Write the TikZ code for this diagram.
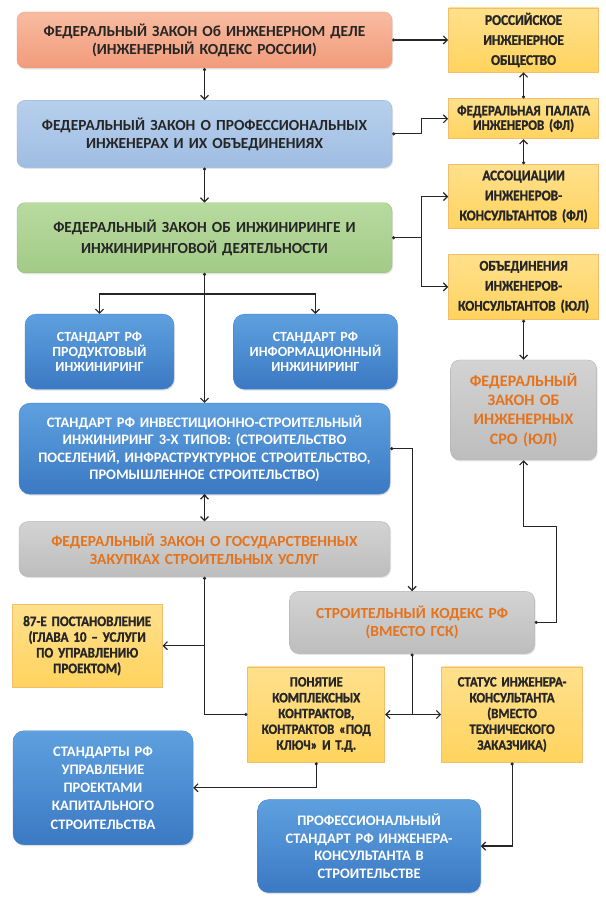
\documentclass[tikz,border=0pt]{standalone}
\usepackage{fontspec}
\setmainfont{Carlito}
\newfontfamily\narrowfont[FakeStretch=0.9, BoldFont={Carlito Bold}, BoldFeatures={FakeStretch=0.9, FakeBold=1.2}]{Carlito}
\usepackage{xcolor}
\usetikzlibrary{positioning,arrows.meta,shadows}

\definecolor{ink}{HTML}{262626}
\definecolor{linec}{HTML}{262626}
\definecolor{peacht}{HTML}{F8BBA0}
\definecolor{peachb}{HTML}{F29B7B}
\definecolor{peachd}{HTML}{E9A488}
\definecolor{skyt}{HTML}{B7CFEC}
\definecolor{skyb}{HTML}{9FBDE2}
\definecolor{skyd}{HTML}{94B3DA}
\definecolor{leaft}{HTML}{B8DA9F}
\definecolor{leafb}{HTML}{A2CB86}
\definecolor{leafd}{HTML}{94BE78}
\definecolor{bluet}{HTML}{5EA0DF}
\definecolor{blueb}{HTML}{3B79C3}
\definecolor{blued}{HTML}{4A86CB}
\definecolor{grayt}{HTML}{D3D3D3}
\definecolor{grayb}{HTML}{BDBDBD}
\definecolor{grayd}{HTML}{B5B5B5}
\definecolor{rust}{HTML}{E4731E}
\definecolor{sunt}{HTML}{FFE08C}
\definecolor{sunb}{HTML}{FFD35E}
\definecolor{sund}{HTML}{F3BE6C}

\begin{document}
\begin{tikzpicture}[
		box/.style={align=center, inner sep=0pt, font=\bfseries},
		soft/.style={drop shadow={opacity=0.22, shadow xshift=1pt, shadow yshift=-1.5pt}},
		peachbox/.style={box, soft, rounded corners=8pt, draw=peachd, top color=peacht, bottom color=peachb, text=ink},
		skybox/.style={box, soft, rounded corners=8pt, draw=skyd, top color=skyt, bottom color=skyb, text=ink},
		leafbox/.style={box, soft, rounded corners=8pt, draw=leafd, top color=leaft, bottom color=leafb, text=ink},
		bluebox/.style={box, soft, rounded corners=11pt, draw=blued, top color=bluet, bottom color=blueb, text=white},
		graybox/.style={box, soft, rounded corners=9pt, draw=grayd, top color=grayt, bottom color=grayb, text=rust},
		sunbox/.style={box, draw=sund, line width=0.8pt, top color=sunt, bottom color=sunb, text=ink},
		big/.style={font=\fontsize{15.4}{18}\selectfont\bfseries},
		mid/.style={font=\fontsize{14.5}{17.8}\selectfont\bfseries},
		small/.style 2 args={font=\narrowfont\fontsize{#1}{#2}\selectfont\bfseries},
		wire/.style={draw=linec, line width=1.2pt},
		conn/.style={wire, {Circle[length=3pt]}-{Straight Barb[length=4pt,width=8pt]}},
		arr/.style={wire, -{Straight Barb[length=4pt,width=8pt]}},
		dotline/.style={wire, {Circle[length=3pt]}-},
		dotdot/.style={wire, {Circle[length=3pt]}-{Circle[length=3pt]}},
	]
			\fill[white] (0,0) rectangle (605pt,899pt);
			\useasboundingbox (0,0) rectangle (605pt,899pt);

			\node[peachbox, big, minimum width=375pt, minimum height=56pt, text width=365pt] (1) at (204.5pt,859pt) {ФЕДЕРАЛЬНЫЙ ЗАКОН Об ИНЖЕНЕРНОМ ДЕЛЕ\\(ИНЖЕНЕРНЫЙ КОДЕКС РОССИИ)};
			\node[skybox, big, minimum width=375pt, minimum height=67pt, text width=365pt] (2) [below=32pt of 1] {ФЕДЕРАЛЬНЫЙ ЗАКОН О ПРОФЕССИОНАЛЬНЫХ\\ИНЖЕНЕРАХ И ИХ ОБЪЕДИНЕНИЯХ};
			\node[leafbox, font=\fontsize{15.4}{21}\selectfont\bfseries, minimum width=375pt, minimum height=70pt, text width=365pt] (3) [below=35pt of 2] {ФЕДЕРАЛЬНЫЙ ЗАКОН ОБ ИНЖИНИРИНГЕ И\\ИНЖИНИРИНГОВОЙ ДЕЯТЕЛЬНОСТИ};
			\node[bluebox, font=\fontsize{14}{14.8}\selectfont\bfseries, minimum width=149pt, minimum height=75pt, text width=143pt] (4) [below right=41pt and 8pt of 3.south west] {СТАНДАРТ РФ\\ПРОДУКТОВЫЙ\\ИНЖИНИРИНГ};
			\node[bluebox, font=\fontsize{14}{14.8}\selectfont\bfseries, minimum width=164pt, minimum height=75pt, text width=158pt] (5) [right=59pt of 4] {СТАНДАРТ РФ\\ИНФОРМАЦИОННЫЙ\\ИНЖИНИРИНГ};
			\node[bluebox, font=\fontsize{14.5}{17.4}\selectfont\bfseries, minimum width=371pt, minimum height=91pt, text width=365pt] (6) [below=130pt of 3] {СТАНДАРТ РФ ИНВЕСТИЦИОННО-СТРОИТЕЛЬНЫЙ\\ИНЖИНИРИНГ 3-Х ТИПОВ: (СТРОИТЕЛЬСТВО\\ПОСЕЛЕНИЙ, ИНФРАСТРУКТУРНОЕ СТРОИТЕЛЬСТВО,\\ПРОМЫШЛЕННОЕ СТРОИТЕЛЬСТВО)};
			\node[graybox, big, minimum width=371pt, minimum height=55pt, text width=365pt] (7) [below=27pt of 6] {ФЕДЕРАЛЬНЫЙ ЗАКОН О ГОСУДАРСТВЕННЫХ\\ЗАКУПКАХ СТРОИТЕЛЬНЫХ УСЛУГ};
			\node[sunbox, small={14.5}{15.7}, minimum width=150pt, minimum height=83pt, text width=148pt] (8) [below right=27pt and -7pt of 7.south west] {87-Е ПОСТАНОВЛЕНИЕ\\(ГЛАВА 10 – УСЛУГИ\\ПО УПРАВЛЕНИЮ\\ПРОЕКТОМ)};

			\node[sunbox, small={14.8}{20}, minimum width=150pt, minimum height=64pt, text width=148pt] (14) [right=56pt of 1] {РОССИЙСКОЕ\\ИНЖЕНЕРНОЕ\\ОБЩЕСТВО};
			\node[sunbox, small={14.4}{14.5}, minimum width=150pt, minimum height=40pt, text width=148pt] (15) [below=26pt of 14] {ФЕДЕРАЛЬНАЯ ПАЛАТА\\ИНЖЕНЕРОВ (ФЛ)};
			\node[sunbox, small={14.8}{20}, minimum width=150pt, minimum height=64pt, text width=148pt] (16) [below=25pt of 15] {АССОЦИАЦИИ\\ИНЖЕНЕРОВ-\\КОНСУЛЬТАНТОВ (ФЛ)};
			\node[sunbox, small={14.8}{20}, minimum width=150pt, minimum height=65pt, text width=148pt] (17) [below=25pt of 16] {ОБЪЕДИНЕНИЯ\\ИНЖЕНЕРОВ-\\КОНСУЛЬТАНТОВ (ЮЛ)};
			\node[graybox, font=\fontsize{16}{19.3}\selectfont\bfseries, minimum width=146pt, minimum height=100pt, text width=140pt] (18) [below=40pt of 17] {ФЕДЕРАЛЬНЫЙ\\ЗАКОН ОБ\\ИНЖЕНЕРНЫХ\\СРО (ЮЛ)};
			\node[graybox, big, minimum width=245pt, minimum height=62pt, text width=239pt] (9) [below left=131pt and 62pt of 18.south east] {СТРОИТЕЛЬНЫЙ КОДЕКС РФ\\(ВМЕСТО ГСК)};
			\node[sunbox, small={14.2}{15.8}, minimum width=137pt, minimum height=95pt, text width=135pt] (10) [below right=13pt and -42pt of 9.south west] {ПОНЯТИЕ\\КОМПЛЕКСНЫХ\\КОНТРАКТОВ,\\КОНТРАКТОВ «ПОД\\КЛЮЧ» И Т.Д.};
			\node[sunbox, small={14.2}{15.8}, minimum width=141pt, minimum height=95pt, text width=139pt] (11) [right=56pt of 10] {СТАТУС ИНЖЕНЕРА-\\КОНСУЛЬТАНТА\\(ВМЕСТО\\ТЕХНИЧЕСКОГО\\ЗАКАЗЧИКА)};
			\node[bluebox, font=\fontsize{14.5}{18.3}\selectfont\bfseries, minimum width=180pt, minimum height=114pt, text width=174pt] (12) [below right=43pt and 1pt of 8.south west] {СТАНДАРТЫ РФ\\УПРАВЛЕНИЕ\\ПРОЕКТАМИ\\КАПИТАЛЬНОГО\\СТРОИТЕЛЬСТВА};
			\node[bluebox, mid, minimum width=223pt, minimum height=93pt, text width=217pt] (13) [below right=37pt and 10pt of 10.south west] {ПРОФЕССИОНАЛЬНЫЙ\\СТАНДАРТ РФ ИНЖЕНЕРА-\\КОНСУЛЬТАНТА В\\СТРОИТЕЛЬСТВЕ};

			\path[conn]
				(1.east) edge (14.west)
				(1.south) edge (2.north)
				(2.south) edge (3.north)
				(15.north) edge (14.south)
				(16.north) edge (15.south)
				(17.south) edge (18.north)
				(3.south) edge (6.north)
				(6.south) edge (7.north)
			;

			\coordinate (br) at ([yshift=-21pt]3.south);
			\draw[arr] (br) -| (4.north);
			\draw[arr] (br) -| (5.north);

			\draw[conn] (2.east) -- ++(29pt,0) |- (15.west);
			\draw[dotline] (3.east) -- ++(29pt,0) coordinate (b3);
			\draw[arr] (b3) |- (16.west);
			\draw[arr] (b3) |- (17.west);

			\draw[conn] (6.east) -| (9.north);
			\draw[conn] (9.east) -- ++(22pt,0) |- ([yshift=-66pt]18.south) -- (18.south);

			\draw[dotdot] (7.south) |- (10.west);
			\draw[arr] (7.south |- 8.east) -- (8.east);

			\draw[dotline] (9.south) -- (9.south |- 10.east) coordinate (j);
			\draw[arr] (j) -- (10.east);
			\draw[arr] (j) -- (11.west);

			\draw[conn] (10.south) |- (12.east);
			\draw[conn] (11.south) |- (13.east);
		\end{tikzpicture}
\end{document}
